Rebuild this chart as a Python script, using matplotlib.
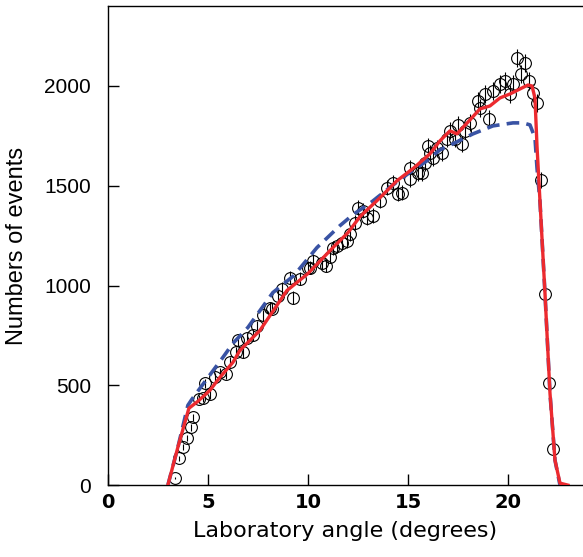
import numpy as np
from matplotlib import pyplot as plt

# measured counts (open circles with error bars)
angle = [3.35, 3.55, 3.75, 3.95, 4.15, 4.25, 4.55, 4.75, 4.85, 5.1, 5.35, 5.6,
         5.9, 6.1, 6.4, 6.5, 6.75, 6.95, 7.25, 7.45, 7.75, 8.1, 8.2, 8.5, 8.7,
         9.1, 9.25, 9.6, 10.0, 10.1, 10.25, 10.7, 10.9, 11.1, 11.25, 11.45, 11.7,
         11.95, 12.1, 12.35, 12.5, 12.75, 12.95, 13.25, 13.6, 13.95, 14.25, 14.5,
         14.7, 15.1, 15.1, 15.5, 15.7, 15.85, 16.0, 16.1, 16.25, 16.45, 16.7,
         16.95, 17.1, 17.35, 17.5, 17.7, 17.85, 18.1, 18.5, 18.6, 18.85, 19.05,
         19.25, 19.6, 19.85, 20.1, 20.25, 20.45, 20.65, 20.85, 21.05, 21.25,
         21.45, 21.65, 21.85, 22.05, 22.25]
counts = [35, 135, 190, 235, 290, 340, 430, 435, 510, 455, 540, 565,
          555, 615, 665, 725, 665, 735, 750, 795, 850, 890, 885, 950, 985,
          1040, 940, 1035, 1090, 1090, 1125, 1115, 1100, 1145, 1190, 1200, 1215,
          1225, 1260, 1315, 1390, 1375, 1340, 1350, 1425, 1490, 1515, 1460,
          1465, 1535, 1590, 1565, 1565, 1615, 1700, 1665, 1640, 1690, 1665,
          1735, 1775, 1735, 1805, 1710, 1775, 1815, 1925, 1890, 1960, 1835,
          1975, 2010, 2025, 1960, 2010, 2140, 2060, 2115, 2025, 1965,
          1915, 1530, 960, 510, 180]

# simulation, solid red
red_x = [3.0, 3.5, 4.05, 4.5, 5.1, 5.6, 6.25, 6.6, 7.6, 8.95, 10.0, 11.25,
         12.0, 12.6, 13.5, 14.45, 15.3, 16.1, 16.6, 17.1, 17.45, 18.1, 18.6,
         19.1, 19.6, 20.1, 20.6, 21.0, 21.2, 21.35, 21.45, 21.85, 22.1, 22.35,
         22.6, 23.0]
red_y = [0, 190, 385, 420, 475, 540, 615, 675, 775, 975, 1060, 1190,
         1265, 1345, 1430, 1525, 1590, 1660, 1725, 1775, 1760, 1830, 1885,
         1900, 1940, 1960, 1985, 2005, 2000, 1940, 1700, 960, 460, 125,
         10, 0]

# simulation, dashed blue
blue_x = [3.0, 3.5, 4.0, 4.2, 4.75, 5.75, 6.25, 7.0, 8.25, 9.3, 10.45, 11.6,
          12.25, 13.2, 14.2, 15.0, 15.95, 16.6, 17.25, 18.25, 19.25, 20.25,
          20.75, 21.1, 21.35, 21.45, 21.6, 21.85, 22.1, 22.35, 22.6]
blue_y = [0, 190, 400, 430, 505, 640, 710, 790, 965, 1050, 1190, 1300,
          1355, 1420, 1500, 1560, 1625, 1680, 1710, 1760, 1800, 1815,
          1815, 1805, 1740, 1590, 1420, 960, 460, 125, 0]

fig = plt.figure(figsize=(5.83, 5.57), dpi=100)
ax = fig.add_axes([0.185, 0.129, 0.815, 0.860])

ax.errorbar(angle, counts, yerr=np.sqrt(counts), fmt='o', ms=8.5,
            mfc='none', mec='black', mew=0.8, ecolor='black', elinewidth=0.8,
            capsize=0, zorder=2)
ax.plot(blue_x, blue_y, color='#3953a4', lw=2.6, dashes=(3.5, 2.0), zorder=3)
ax.plot(red_x, red_y, color='#ec2a2f', lw=2.4, zorder=4)

ax.set_xlim(0, 23.75)
ax.set_ylim(0, 2400)
ax.set_xticks([0, 5, 10, 15, 20])
ax.set_yticks([0, 500, 1000, 1500, 2000])
ax.spines['right'].set_visible(False)
for s in ['left', 'bottom', 'top']:
    ax.spines[s].set_linewidth(1.0)
ax.tick_params(direction='in', length=8, width=1.0, right=False, top=False)
for lab in ax.get_xticklabels():
    lab.set_fontfamily('DejaVu Sans')
    lab.set_fontsize(14)
    lab.set_fontweight('bold')
for lab in ax.get_yticklabels():
    lab.set_fontfamily('Liberation Sans')
    lab.set_fontsize(15)
ax.tick_params(axis='x', pad=6)
ax.tick_params(axis='y', pad=12)

ax.set_xlabel('Laboratory angle (degrees)', fontsize=16, family='DejaVu Sans',
              labelpad=6)
ax.set_ylabel('Numbers of events', fontsize=17, family='Liberation Sans',
              labelpad=12)

fig.savefig('out.png', dpi=100)
